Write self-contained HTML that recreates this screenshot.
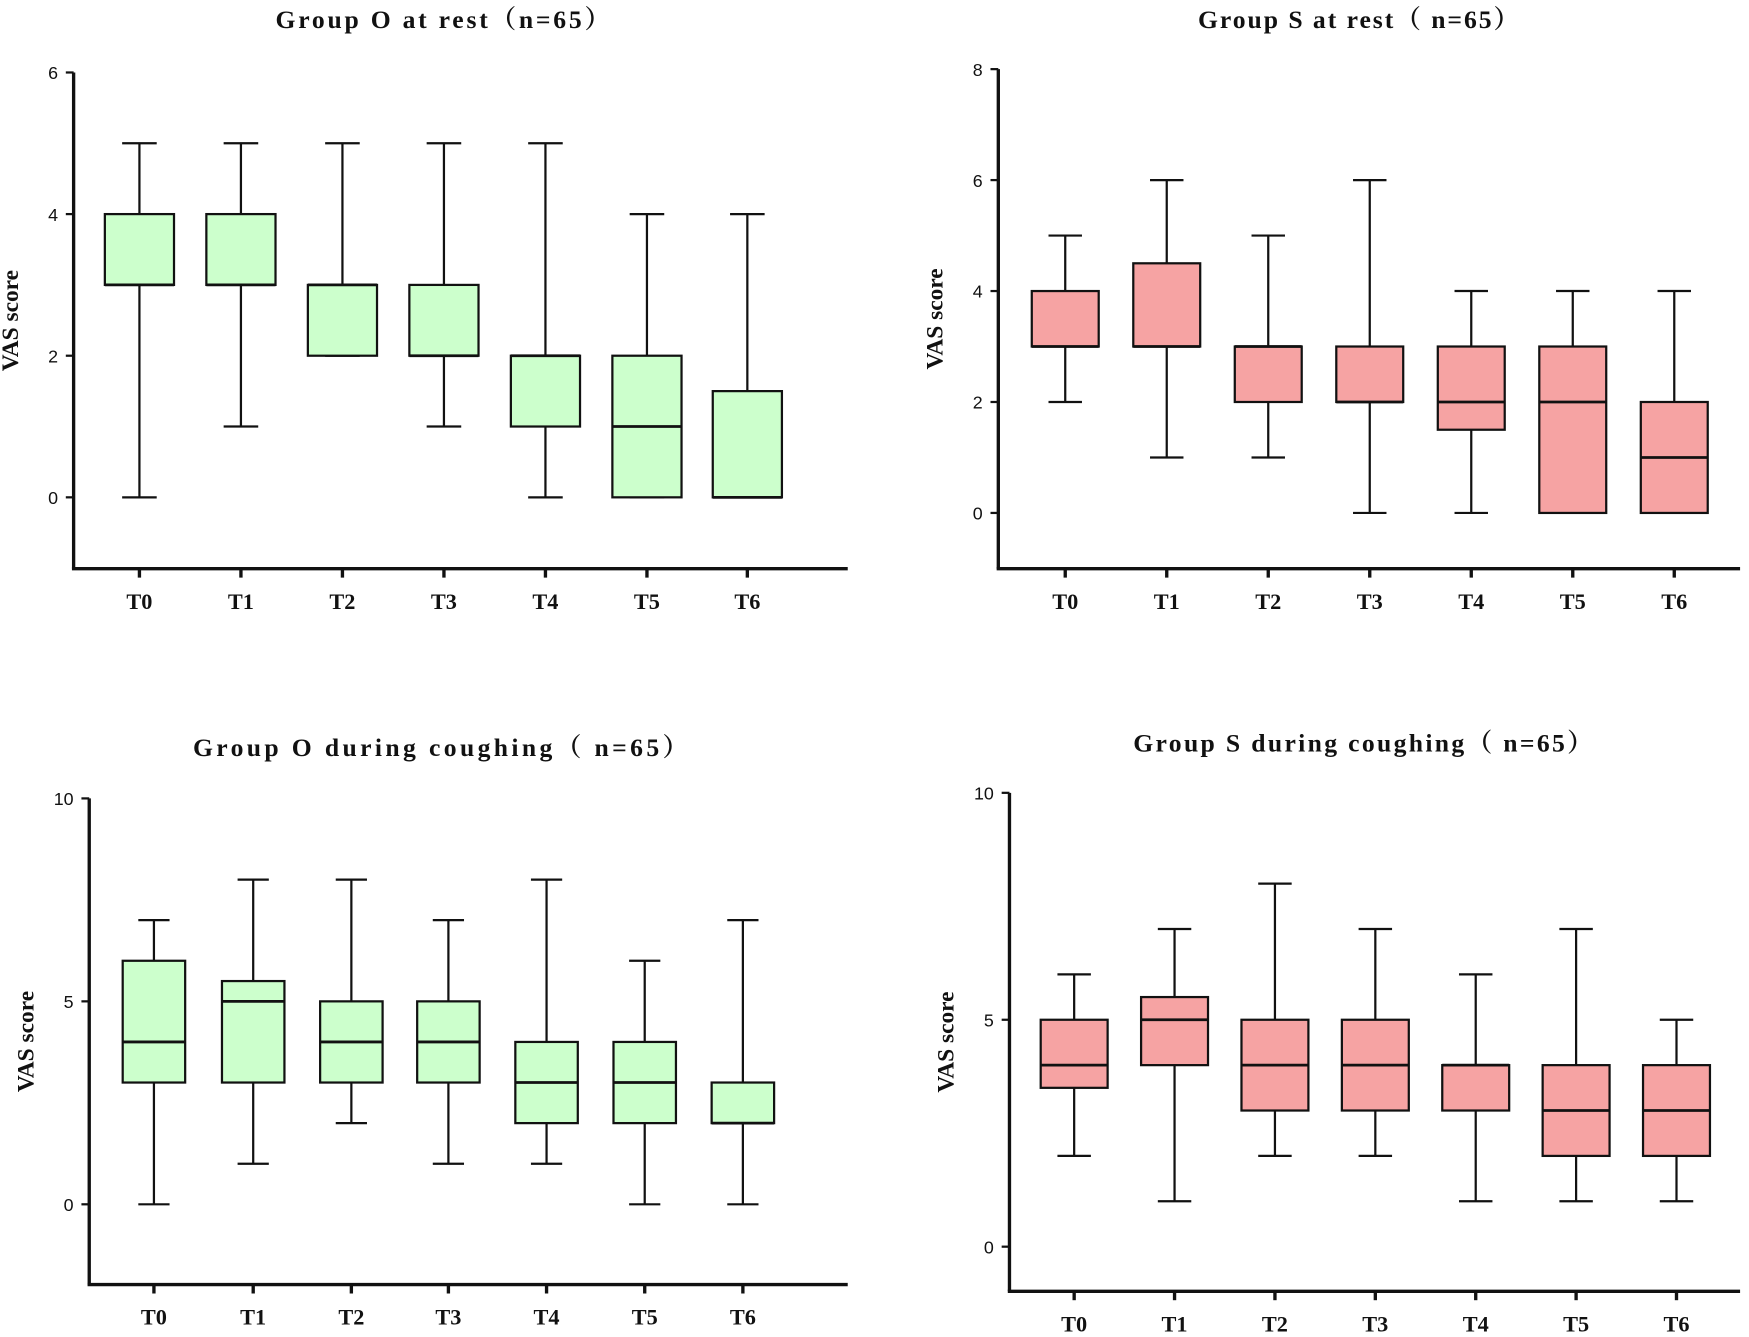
<!DOCTYPE html>
<html><head><meta charset="utf-8"><style>
html,body{margin:0;padding:0;background:#fff;}
svg{display:block;}
text{font-family:"Liberation Serif","Noto Serif CJK SC",serif;font-weight:bold;fill:#111;}
</style></head><body>
<svg id="s" width="1749" height="1337" viewBox="0 0 1568 1199" preserveAspectRatio="none" xmlns="http://www.w3.org/2000/svg"></svg>
<script>
const panels=[
{title:"Group O at rest（n=65）",tx:397,ty:25,tl:300,ax:66,y0:446,pu:63.5,ymax:6,bot:510,xr:760,step:2,
 cats:[125,216,307,398,489,580,670],bw:62,fill:"#ccffcc",
 d:[[0,3,3,4,5],[1,3,3,4,5],[2,2,3,3,5],[1,2,2,3,5],[0,1,2,2,5],[0,0,1,2,4],[0,0,0,1.5,4]]},
{title:"Group S at rest（ n=65）",tx:1218,ty:25,tl:288,ax:895,y0:460,pu:49.75,ymax:8,bot:510,xr:1560,step:2,
 cats:[955,1046,1137,1228,1319,1410,1501],bw:60,fill:"#f6a3a3",
 d:[[2,3,3,4,5],[1,3,3,4.5,6],[1,2,3,3,5],[0,2,2,3,6],[0,1.5,2,3,4],[0,0,2,3,4],[0,0,1,2,4]]},
{title:"Group O during coughing（ n=65）",tx:395,ty:678,tl:444,ax:80,y0:1080,pu:36.4,ymax:10,bot:1152,xr:760,step:5,
 cats:[138,227,315,402,490,578,666],bw:56,fill:"#ccffcc",
 d:[[0,3,4,6,7],[1,3,5,5.5,8],[2,3,4,5,8],[1,3,4,5,7],[1,2,3,4,8],[0,2,3,4,6],[0,2,2,3,7]]},
{title:"Group S during coughing（ n=65）",tx:1222,ty:674,tl:412,ax:905,y0:1118,pu:40.7,ymax:10,bot:1158,xr:1560,step:5,
 cats:[963,1053,1143,1233,1323,1413,1503],bw:60,fill:"#f6a3a3",
 d:[[2,3.5,4,5,6],[1,4,5,5.5,7],[2,3,4,5,8],[2,3,4,5,7],[1,3,4,4,6],[1,2,3,4,7],[1,2,3,4,5]]}
];
let h="";
panels.forEach(p=>{
 const Y=v=>p.y0-v*p.pu;
 h+=`<text x="${p.tx}" y="${p.ty}" font-size="23" text-anchor="middle" textLength="${p.tl}" lengthAdjust="spacing">${p.title}</text>`;
 h+=`<line x1="${p.ax}" y1="${Y(p.ymax)}" x2="${p.ax}" y2="${p.bot}" stroke="#111" stroke-width="3"/>`;
 h+=`<line x1="${p.ax-1.5}" y1="${p.bot}" x2="${p.xr}" y2="${p.bot}" stroke="#111" stroke-width="3"/>`;
 for(let v=0;v<=p.ymax;v+=p.step){
  h+=`<line x1="${p.ax-7}" y1="${Y(v)}" x2="${p.ax}" y2="${Y(v)}" stroke="#111" stroke-width="2"/>`;
  h+=`<text x="${p.ax-14}" y="${Y(v)+6}" font-size="16" text-anchor="end" style="font-weight:normal;font-family:'Liberation Sans',sans-serif">${v}</text>`;
 }
 const ly=(Y(p.ymax)+p.bot)/2;
 h+=`<text transform="translate(${p.ax-50},${ly}) rotate(-90)" font-size="21" text-anchor="middle">VAS score</text>`;
 const names=["T0","T1","T2","T3","T4","T5","T6"];
 p.cats.forEach((x,i)=>{
  h+=`<line x1="${x}" y1="${p.bot}" x2="${x}" y2="${p.bot+8}" stroke="#111" stroke-width="3"/>`;
  h+=`<text x="${x}" y="${p.bot+36}" font-size="20" text-anchor="middle">${names[i]}</text>`;
  const [mn,q1,md,q3,mx]=p.d[i],w=p.bw,l=x-w/2;
  h+=`<line x1="${x}" y1="${Y(mx)}" x2="${x}" y2="${Y(mn)}" stroke="#111" stroke-width="2"/>`;
  [mn,mx].forEach(v=>h+=`<line x1="${x-w/4}" y1="${Y(v)}" x2="${x+w/4}" y2="${Y(v)}" stroke="#111" stroke-width="2"/>`);
  h+=`<rect x="${l}" y="${Y(q3)}" width="${w}" height="${Math.max(Y(q1)-Y(q3),1)}" fill="${p.fill}" stroke="#111" stroke-width="2"/>`;
  h+=`<line x1="${l}" y1="${Y(md)}" x2="${l+w}" y2="${Y(md)}" stroke="#111" stroke-width="2.5"/>`;
 });
});
document.getElementById("s").innerHTML=h;
</script>
</body></html>
